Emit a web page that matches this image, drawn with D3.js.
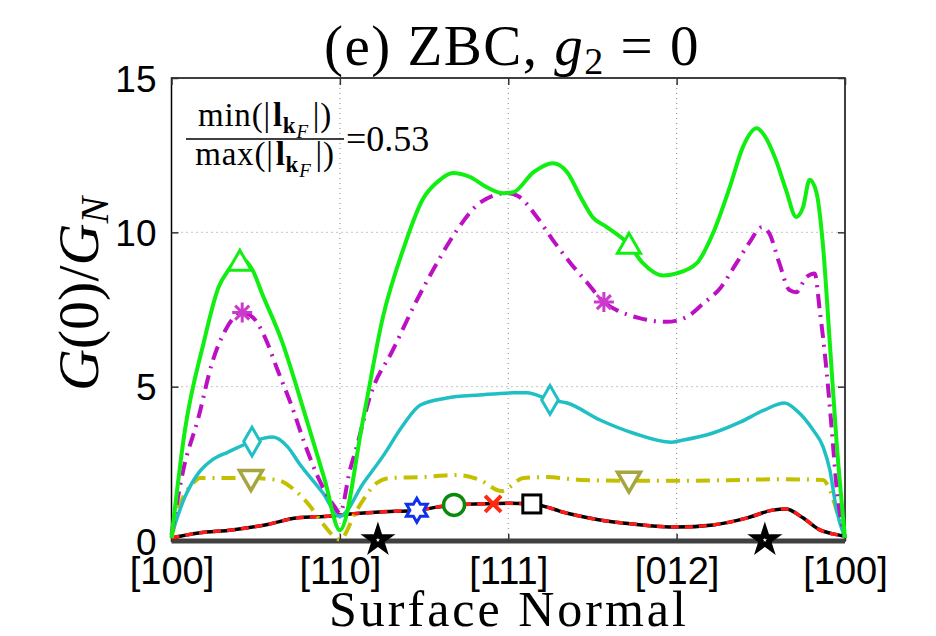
<!DOCTYPE html>
<html><head><meta charset="utf-8">
<script src="https://cdn.jsdelivr.net/npm/d3@7"></script>
<style>html,body{margin:0;padding:0;background:#fff}</style>
</head><body>
<svg id="chart" width="936" height="636"></svg>
<script>
// ---------- DATA ----------
const xTickLabels = ["[100]", "[110]", "[111]", "[012]", "[100]"];
const xTickValues = [0, 1, 2, 3, 4];
const yTickValues = [0, 5, 10, 15];

const greenX = [0, 0.08, 0.19, 0.28, 0.335, 0.41, 0.484, 0.537, 0.654, 0.79, 0.91, 1.0, 1.14, 1.256, 1.375, 1.49, 1.594, 1.67, 1.77, 1.87, 1.97, 2.03, 2.15, 2.265, 2.35, 2.43, 2.50, 2.585, 2.717, 2.80, 2.92, 3.0, 3.12, 3.216, 3.316, 3.394, 3.475, 3.52, 3.59, 3.65, 3.71, 3.75, 3.79, 3.83, 3.868, 3.91, 3.95, 4.0];
const greenY = [0.1, 3.6, 6.4, 8.23, 8.75, 9.15, 8.75, 8.03, 6.5, 4.15, 1.98, 0.35, 4.0, 7.26, 9.43, 11.05, 11.7, 11.92, 11.8, 11.47, 11.27, 11.3, 11.95, 12.24, 11.95, 11.14, 10.5, 10.17, 9.6, 9.0, 8.6, 8.67, 9.0, 9.97, 11.47, 12.77, 13.37, 13.15, 12.34, 11.37, 10.5, 10.8, 11.7, 11.3, 9.65, 6.4, 3.2, 0.1];
const greenMarkX = [0.406, 2.717];
const greenMarkY = [9.05, 9.6];

const magentaX = [0, 0.07, 0.16, 0.24, 0.32, 0.42, 0.48, 0.555, 0.63, 0.716, 0.79, 0.87, 0.97, 1.0, 1.06, 1.1, 1.18, 1.315, 1.457, 1.576, 1.695, 1.83, 1.99, 2.05, 2.17, 2.265, 2.37, 2.47, 2.568, 2.645, 2.78, 2.94, 3.06, 3.16, 3.26, 3.355, 3.43, 3.507, 3.55, 3.61, 3.67, 3.71, 3.77, 3.82, 3.85, 3.89, 3.92, 3.95, 4.0];
const magentaY = [0.2, 2.3, 4.0, 5.75, 6.83, 7.4, 7.26, 6.6, 5.54, 4.34, 3.17, 2.07, 1.1, 0.9, 2.3, 3.05, 4.7, 6.19, 7.8, 9.0, 10.07, 10.95, 11.27, 11.2, 10.5, 9.75, 9.0, 8.36, 7.74, 7.48, 7.22, 7.1, 7.26, 7.7, 8.2, 9.0, 9.65, 10.17, 9.97, 9.0, 8.13, 8.06, 8.55, 8.67, 7.48, 5.54, 3.7, 1.75, 0.1];
const magentaMarkX = [0.42, 2.568];
const magentaMarkY = [7.4, 7.74];

const cyanX = [0, 0.08, 0.16, 0.24, 0.336, 0.478, 0.6, 0.69, 0.76, 0.9, 1.0, 1.14, 1.256, 1.375, 1.476, 1.635, 1.83, 2.03, 2.11, 2.248, 2.35, 2.545, 2.74, 2.97, 3.02, 3.216, 3.377, 3.52, 3.64, 3.71, 3.81, 3.87, 3.91, 3.95, 4.0];
const cyanY = [0.2, 1.43, 2.2, 2.62, 2.88, 3.22, 3.37, 3.05, 2.5, 1.55, 0.8, 1.88, 2.75, 3.75, 4.4, 4.63, 4.73, 4.8, 4.8, 4.57, 4.47, 3.92, 3.5, 3.2, 3.25, 3.5, 3.85, 4.24, 4.47, 4.24, 3.6, 3.05, 2.3, 1.0, 0.1];
const cyanMarkX = [0.478, 2.248];
const cyanMarkY = [3.22, 4.57];

const oliveX = [0, 0.04, 0.13, 0.17, 0.3, 0.455, 0.625, 0.72, 0.82, 0.9, 1.0, 1.1, 1.22, 1.3, 1.49, 1.695, 1.83, 1.96, 2.09, 2.23, 2.43, 2.717, 3.0, 3.3, 3.6, 3.87, 3.91, 3.95, 4.0];
const oliveY = [0.1, 1.0, 1.88, 2.04, 2.04, 2.04, 1.98, 1.7, 1.15, 0.55, 0.05, 1.0, 1.88, 2.04, 2.07, 2.14, 1.98, 1.62, 2.04, 2.07, 1.98, 1.95, 1.95, 1.97, 2.0, 1.98, 1.65, 1.0, 0.1];
const oliveMarkX = [0.472, 2.717];
const oliveMarkY = [2.0, 1.95];

const bottomX = [0, 0.16, 0.36, 0.555, 0.75, 0.95, 1.0, 1.24, 1.457, 1.678, 1.91, 2.0, 2.14, 2.35, 2.545, 2.74, 3.0, 3.216, 3.42, 3.57, 3.65, 3.75, 3.85, 3.93, 4.0];
const bottomY = [0.1, 0.26, 0.36, 0.52, 0.75, 0.81, 0.84, 0.94, 1.0, 1.17, 1.21, 1.22, 1.2, 0.9, 0.68, 0.55, 0.45, 0.52, 0.75, 1.0, 1.04, 0.75, 0.36, 0.23, 0.15];
const hexMarkX = [1.457], hexMarkY = [1.0];
const circleMarkX = [1.678], circleMarkY = [1.17];
const crossMarkX = [1.91], crossMarkY = [1.2];
const squareMarkX = [2.14], squareMarkY = [1.2];

const zeroX = [0, 4];
const zeroY = [0, 0];
const starMarkX = [1.226, 3.524];
const starMarkY = [0, 0];

// ---------- LAYOUT ----------
const svg = d3.select("#chart");
svg.append("rect").attr("width", 936).attr("height", 636).attr("fill", "#fff");
const x = d3.scaleLinear().domain([0, 4]).range([171.5, 845]);
const y = d3.scaleLinear().domain([0, 15]).range([541, 78]);
const serif = "'Liberation Serif','DejaVu Serif',serif";
const sans = "'Liberation Sans',Arial,sans-serif";

// grid
const g = svg.append("g");
g.selectAll(".gx").data([1, 2, 3]).join("line")
  .attr("x1", d => x(d)).attr("x2", d => x(d)).attr("y1", y(15)).attr("y2", y(0))
  .attr("stroke", "#8a8a8a").attr("stroke-width", 1).attr("stroke-dasharray", "1,4");
g.selectAll(".gy").data([5, 10]).join("line")
  .attr("x1", x(0)).attr("x2", x(4)).attr("y1", d => y(d)).attr("y2", d => y(d))
  .attr("stroke", "#8a8a8a").attr("stroke-width", 1).attr("stroke-dasharray", "1,4");

// frame
svg.append("rect").attr("x", x(0)).attr("y", y(15)).attr("width", x(4) - x(0)).attr("height", y(0) - y(15))
  .attr("fill", "none").attr("stroke", "#000").attr("stroke-width", 1.5);

// axes via d3
const xAxisB = d3.axisBottom(x).tickValues(xTickValues).tickFormat((d, i) => xTickLabels[i]).tickSizeInner(-7).tickSizeOuter(0).tickPadding(16);
const xAxisT = d3.axisTop(x).tickValues(xTickValues).tickFormat("").tickSizeInner(-7).tickSizeOuter(0);
const yAxisL = d3.axisLeft(y).tickValues(yTickValues).tickSizeInner(-7).tickSizeOuter(0).tickPadding(15);
const yAxisR = d3.axisRight(y).tickValues(yTickValues).tickFormat("").tickSizeInner(-7).tickSizeOuter(0);
function styleAxis(sel) {
  sel.select(".domain").remove();
  sel.selectAll(".tick line").attr("stroke", "#333").attr("stroke-width", 1.5);
  sel.selectAll("text").attr("font-family", sans).attr("fill", "#000");
}
svg.append("g").attr("transform", `translate(0,${y(0)})`).call(xAxisB).call(styleAxis)
  .selectAll("text").attr("font-size", 38);
svg.append("g").attr("transform", `translate(0,${y(15)})`).call(xAxisT).call(styleAxis);
svg.append("g").attr("transform", `translate(${x(0)},0)`).call(yAxisL).call(styleAxis)
  .selectAll("text").attr("font-size", 37).attr("dy", "0.36em");
svg.append("g").attr("transform", `translate(${x(4)},0)`).call(yAxisR).call(styleAxis);

// ---------- SERIES ----------
function pts(xs, ys) { return xs.map((v, i) => [v, ys[i]]); }
const line = d3.line().x(d => x(d[0])).y(d => y(d[1])).curve(d3.curveMonotoneX);
const lines = svg.append("g").attr("fill", "none").attr("stroke-linejoin", "round");

lines.append("path").attr("d", line(pts(zeroX, zeroY))).attr("stroke", "#404040").attr("stroke-width", 5);
lines.append("path").attr("d", line(pts(bottomX, bottomY))).attr("stroke", "#000").attr("stroke-width", 3.5);
lines.append("path").attr("d", line(pts(bottomX, bottomY))).attr("stroke", "#ff1a1a").attr("stroke-width", 3.5).attr("stroke-dasharray", "8,6");
lines.append("path").attr("d", line(pts(oliveX, oliveY))).attr("stroke", "#c4c000").attr("stroke-width", 4).attr("stroke-dasharray", "14,7,2,7");
lines.append("path").attr("d", line(pts(cyanX, cyanY))).attr("stroke", "#1fbfc4").attr("stroke-width", 3.5);
lines.append("path").attr("d", line(pts(magentaX, magentaY))).attr("stroke", "#bd0fc4").attr("stroke-width", 4).attr("stroke-dasharray", "14,7,2,7");
lines.append("path").attr("d", line(pts(greenX, greenY))).attr("stroke", "#11ee11").attr("stroke-width", 4);

// ---------- MARKERS ----------
const mk = svg.append("g");
function place(xs, ys) { return pts(xs, ys); }
mk.selectAll(".tri").data(place(greenMarkX, greenMarkY)).join("path")
  .attr("d", d3.symbol(d3.symbolTriangle, 230)())
  .attr("transform", d => `translate(${x(d[0])},${y(d[1]) + 2})`)
  .attr("fill", "#fff").attr("stroke", "#11ee11").attr("stroke-width", 3);
const ast = "M0,-10V10M-10,0H10M-7,-7L7,7M-7,7L7,-7";
mk.selectAll(".ast").data(place(magentaMarkX, magentaMarkY)).join("path")
  .attr("d", ast).attr("transform", d => `translate(${x(d[0])},${y(d[1])})`)
  .attr("fill", "none").attr("stroke", "#cc3acc").attr("stroke-width", 3);
mk.selectAll(".dia").data(place(cyanMarkX, cyanMarkY)).join("path")
  .attr("d", d3.symbol(d3.symbolDiamond, 240)())
  .attr("transform", d => `translate(${x(d[0])},${y(d[1])})`)
  .attr("fill", "#fff").attr("stroke", "#1fbfc4").attr("stroke-width", 3);
mk.selectAll(".dtri").data(place(oliveMarkX, oliveMarkY)).join("path")
  .attr("d", d3.symbol(d3.symbolTriangle, 230)())
  .attr("transform", d => `translate(${x(d[0])},${y(d[1]) - 2}) rotate(180)`)
  .attr("fill", "#fff").attr("stroke", "#a6a540").attr("stroke-width", 3.5);
function hexPath(r) {
  const p = [];
  for (let i = 0; i < 12; i++) {
    const a = -Math.PI / 2 + i * Math.PI / 6;
    const rr = i % 2 === 0 ? r : r / Math.sqrt(3);
    p.push([rr * Math.cos(a), rr * Math.sin(a)]);
  }
  return "M" + p.map(q => q.join(",")).join("L") + "Z";
}
mk.selectAll(".hex").data(place(hexMarkX, hexMarkY)).join("path")
  .attr("d", hexPath(12)).attr("transform", d => `translate(${x(d[0])},${y(d[1])})`)
  .attr("fill", "#fff").attr("stroke", "#1030f0").attr("stroke-width", 3);
mk.selectAll(".cir").data(place(circleMarkX, circleMarkY)).join("circle")
  .attr("cx", d => x(d[0])).attr("cy", d => y(d[1])).attr("r", 10.5)
  .attr("fill", "#fff").attr("stroke", "#0a8a0a").attr("stroke-width", 3.5);
mk.selectAll(".xx").data(place(crossMarkX, crossMarkY)).join("path")
  .attr("d", "M-8,-8L8,8M-8,8L8,-8").attr("transform", d => `translate(${x(d[0])},${y(d[1])})`)
  .attr("fill", "none").attr("stroke", "#ff2a10").attr("stroke-width", 4);
mk.selectAll(".sq").data(place(squareMarkX, squareMarkY)).join("rect")
  .attr("x", d => x(d[0]) - 9).attr("y", d => y(d[1]) - 9).attr("width", 18).attr("height", 18)
  .attr("fill", "#fff").attr("stroke", "#000").attr("stroke-width", 3);
mk.selectAll(".star").data(place(starMarkX, starMarkY)).join("path")
  .attr("d", d3.symbol(d3.symbolStar, 260)())
  .attr("transform", d => `translate(${x(d[0])},${y(d[1]) - 1})`)
  .attr("fill", "#000").attr("stroke", "#000").attr("stroke-width", 2);
mk.selectAll(".star2").data(place(starMarkX, starMarkY)).join("path")
  .attr("d", d3.symbol(d3.symbolStar, 6)())
  .attr("transform", d => `translate(${x(d[0])},${y(d[1]) - 1})`)
  .attr("fill", "#fff");

// ---------- TEXT ----------
const title = svg.append("text").attr("x", 512).attr("y", 65).attr("text-anchor", "middle")
  .attr("font-family", serif).attr("font-size", 57).attr("letter-spacing", 1.5).attr("fill", "#000");
title.append("tspan").text("(e) ZBC, ");
title.append("tspan").attr("font-style", "italic").text("g");
title.append("tspan").attr("font-size", 38).attr("dy", 9).text("2");
title.append("tspan").attr("dy", -9).text(" = 0");

svg.append("text").attr("x", 509).attr("y", 626).attr("text-anchor", "middle")
  .attr("font-family", serif).attr("font-size", 50).attr("letter-spacing", 3).attr("fill", "#000").text("Surface Normal");

const yl = svg.append("text").attr("transform", "translate(98,294) rotate(-90)").attr("text-anchor", "middle")
  .attr("font-family", serif).attr("font-size", 58).attr("fill", "#000");
yl.append("tspan").attr("font-style", "italic").text("G");
yl.append("tspan").text("(0)/");
yl.append("tspan").attr("font-style", "italic").text("G");
yl.append("tspan").attr("font-style", "italic").attr("font-size", 40).attr("dy", 10).text("N");

// annotation fraction
function lk(word, yy) {
  const tx = svg.append("text").attr("x", 265).attr("y", yy).attr("text-anchor", "middle")
    .attr("font-family", serif).attr("font-size", 33).attr("letter-spacing", 0.8).attr("fill", "#000");
  tx.append("tspan").text(word + "(|");
  tx.append("tspan").attr("font-weight", "bold").attr("dx", 2).text("l");
  tx.append("tspan").attr("font-weight", "bold").attr("font-size", 23).attr("dy", 7).text("k");
  tx.append("tspan").attr("font-style", "italic").attr("font-size", 19).attr("dy", 5).text("F");
  tx.append("tspan").attr("dy", -12).attr("dx", 4).text("|)");
}
lk("min", 126);
lk("max", 165);
svg.append("line").attr("x1", 186).attr("x2", 344).attr("y1", 139).attr("y2", 139).attr("stroke", "#000").attr("stroke-width", 1.5);
svg.append("text").attr("x", 346).attr("y", 151).attr("font-family", serif).attr("font-size", 36).attr("fill", "#000").text("=0.53");
</script>
</body></html>
